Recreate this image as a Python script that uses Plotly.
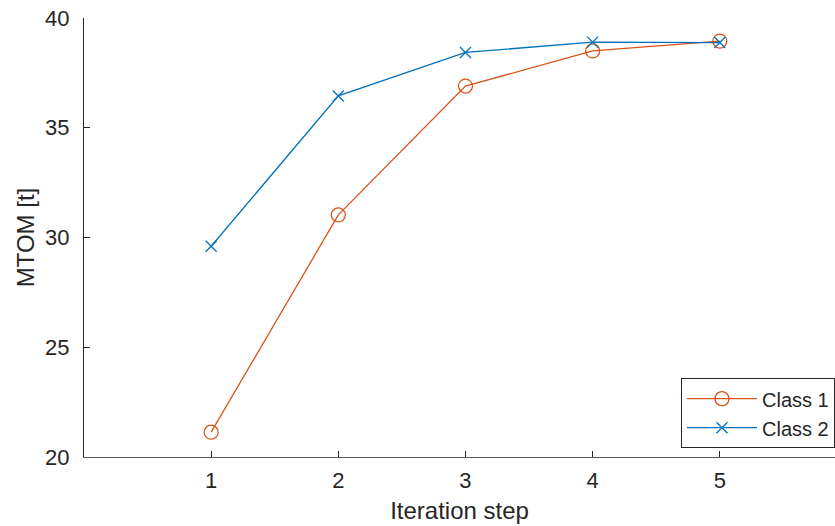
import plotly.graph_objects as go

iterations = [1, 2, 3, 4, 5]
class1 = [21.13, 31.03, 36.9, 38.5, 38.95]
class2 = [29.6, 36.45, 38.43, 38.9, 38.88]

fig = go.Figure()
fig.add_trace(go.Scatter(x=iterations, y=class1, name="Class 1", mode="lines+markers",
                         line=dict(color="#D95319", width=1.3),
                         marker=dict(symbol="circle-open", size=14, color="#D95319", line=dict(width=1.3))))
fig.add_trace(go.Scatter(x=iterations, y=class2, name="Class 2", mode="lines+markers",
                         line=dict(color="#0072BD", width=1.3),
                         marker=dict(symbol="x-thin-open", size=11, color="#0072BD", line=dict(width=1.3, color="#0072BD"))))

font = "Liberation Sans, Arial, Helvetica, sans-serif"
fig.update_layout(
    width=835, height=526,
    margin=dict(l=84, r=0, t=18, b=69, autoexpand=False),
    paper_bgcolor="white", plot_bgcolor="white",
    font=dict(family=font, size=22, color="#262626"),
    xaxis=dict(range=[0, 5.906], tickvals=iterations, ticks="inside", ticklen=6, tickcolor="#262626",
               showgrid=False, zeroline=False, showline=True, linecolor="#5a5a5a", linewidth=1,
               title=dict(text="Iteration step", font=dict(size=24), standoff=9),
               tickfont=dict(size=22), ticklabelstandoff=4, automargin=False),
    yaxis=dict(range=[20, 40], tickvals=[20, 25, 30, 35, 40], ticks="inside", ticklen=6, tickcolor="#262626",
               showgrid=False, zeroline=False, showline=True, linecolor="#262626", linewidth=1,
               title=dict(text="MTOM [t]", font=dict(size=24), standoff=3),
               tickfont=dict(size=22), ticklabelstandoff=9, automargin=False),
    legend=dict(x=1, y=0.02, xanchor="right", yanchor="bottom", bordercolor="#262626", borderwidth=1,
                bgcolor="white", font=dict(size=20), tracegroupgap=0, itemwidth=70),
    showlegend=True,
)
fig.write_html("out.html", config={"displayModeBar": False},
               post_script="document.body.style.margin='0';")
